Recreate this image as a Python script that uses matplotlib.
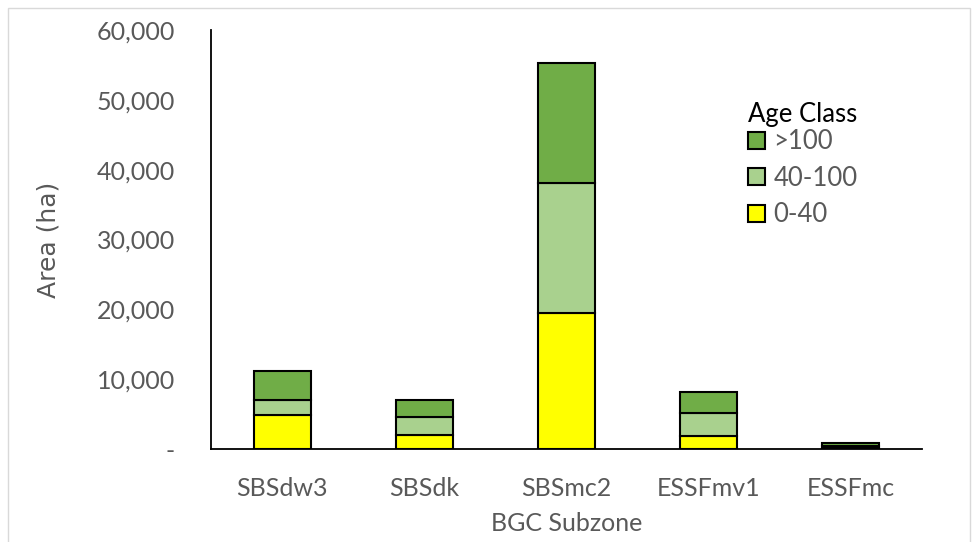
import matplotlib.pyplot as plt
from matplotlib.patches import Rectangle
from matplotlib.ticker import FuncFormatter

# area by BGC subzone, split into age classes (ha)
subzones = ['SBSdw3', 'SBSdk', 'SBSmc2', 'ESSFmv1', 'ESSFmc']
age_0_40 = [4900, 2000, 19500, 1850, 200]
age_40_100 = [2100, 2600, 18600, 3300, 300]
age_gt_100 = [4100, 2400, 17200, 3050, 400]

colors = {'0-40': '#ffff00', '40-100': '#a9d18e', '>100': '#70ad47'}
grey = '#595959'

plt.rcParams['font.family'] = ['Lato', 'DejaVu Sans']

fig = plt.figure(figsize=(9.77, 5.42), dpi=100)
ax = fig.add_axes([211 / 977, 93 / 542, 711 / 977, 419 / 542])

x = range(len(subzones))
w = 0.40
b1 = ax.bar(x, age_0_40, w, color=colors['0-40'], edgecolor='black', linewidth=1.5, label='0-40')
bottom2 = age_0_40
b2 = ax.bar(x, age_40_100, w, bottom=bottom2, color=colors['40-100'], edgecolor='black', linewidth=1.5, label='40-100')
bottom3 = [a + b for a, b in zip(age_0_40, age_40_100)]
b3 = ax.bar(x, age_gt_100, w, bottom=bottom3, color=colors['>100'], edgecolor='black', linewidth=1.5, label='>100')

ax.set_xlim(-0.5, 4.5)
ax.set_ylim(0, 60000)
ax.set_yticks(range(0, 60001, 10000))
ax.yaxis.set_major_formatter(FuncFormatter(lambda v, p: '-' if v == 0 else f'{int(v):,}'))
ax.set_xticks(list(x))
ax.set_xticklabels(subzones)

for s in ['top', 'right']:
    ax.spines[s].set_visible(False)
ax.spines['left'].set_linewidth(1.3)
ax.spines['bottom'].set_linewidth(1.3)
ax.tick_params(axis='both', length=0, labelsize=18, colors=grey)
ax.tick_params(axis='y', pad=26)
ax.tick_params(axis='x', pad=20)

ax.set_ylabel('Area (ha)', fontsize=18, color=grey, labelpad=26, family='DejaVu Sans')
ax.set_xlabel('BGC Subzone', fontsize=18, color=grey, labelpad=9)

leg = ax.legend(handles=[b3, b2, b1], title='Age Class', frameon=False,
                loc='upper left', bbox_to_anchor=(0.737, 0.86),
                fontsize=18.5, title_fontsize=18.5, handlelength=0.65, handleheight=0.65,
                handletextpad=0.35, labelspacing=0.45, borderpad=0)
for t in leg.get_texts():
    t.set_color(grey)
leg._legend_box.align = 'left'
leg._legend_box.sep = 2

# light border round the chart area
fig.add_artist(Rectangle((8 / 977, -0.02), 962 / 977, 1.0 - 8 / 542 + 0.02,
                         transform=fig.transFigure, fill=False,
                         edgecolor='#d9d9d9', linewidth=1))

fig.savefig('out.png', dpi=100)
